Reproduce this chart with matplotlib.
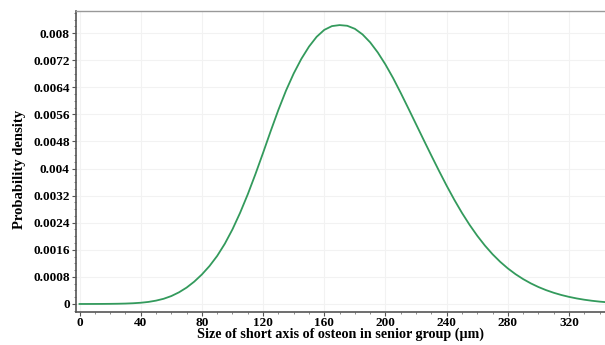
import matplotlib
matplotlib.use("Agg")
from matplotlib import pyplot as plt
from matplotlib.ticker import MultipleLocator

# curve, every 5 um
size_um = list(range(0, 350, 5))
density = [
    0.0000003, 0.0000006, 0.0000012, 0.0000023, 0.0000042, 0.0000074,
    0.0000128, 0.0000219, 0.0000366, 0.0000606, 0.0000992, 0.000154,
    0.000234, 0.000344, 0.000484, 0.000660, 0.000872, 0.001122,
    0.001420, 0.001780, 0.002205, 0.002695, 0.003240, 0.003835,
    0.004464, 0.005109, 0.005731, 0.006303, 0.006805, 0.007237,
    0.007599, 0.007889, 0.008094, 0.008205, 0.008235, 0.008215,
    0.008125, 0.007960, 0.007725, 0.007425, 0.007070, 0.006670,
    0.006230, 0.005772, 0.005307, 0.004842, 0.004382, 0.003930,
    0.003492, 0.003077, 0.002690, 0.002336, 0.002014, 0.001725,
    0.001469, 0.001245, 0.001050, 0.000881, 0.000735, 0.000609,
    0.000501, 0.000409, 0.000331, 0.000265, 0.000210, 0.000164,
    0.000126, 0.000095, 0.000070, 0.000050,
]

x_ticks = [0, 40, 80, 120, 160, 200, 240, 280, 320]
y_ticks = [0, 0.0008, 0.0016, 0.0024, 0.0032, 0.004, 0.0048, 0.0056, 0.0064, 0.0072, 0.008]
y_tick_labels = ["0", "0.0008", "0.0016", "0.0024", "0.0032", "0.004",
                 "0.0048", "0.0056", "0.0064", "0.0072", "0.008"]

plt.rcParams["font.family"] = ["Liberation Serif", "DejaVu Serif"]
plt.rcParams["font.weight"] = "bold"

fig = plt.figure(figsize=(6.05, 3.45), dpi=100)
ax = fig.add_axes([0.1256, 0.0957, 0.8744, 0.8723])

ax.plot(size_um, density, color="#339a5c", linewidth=1.3)

ax.set_xlim(-2.3, 343.5)
ax.set_ylim(-0.000236, 0.00865)

ax.set_xticks(x_ticks)
ax.set_xticklabels([str(t) for t in x_ticks])
ax.set_yticks(y_ticks)
ax.set_yticklabels(y_tick_labels)
ax.xaxis.set_minor_locator(MultipleLocator(10))
ax.yaxis.set_minor_locator(MultipleLocator(0.0002))

ax.tick_params(which="major", direction="out", length=3, width=0.8,
               color="#555555", labelsize=9.5)
ax.tick_params(which="minor", direction="out", length=1.5, width=0.6, color="#777777")
ax.tick_params(axis="x", which="major", pad=0.5)
ax.tick_params(axis="y", which="major", pad=1.5)

ax.grid(True, which="major", color="#f2f2f2", linewidth=0.8)

for side in ["left", "bottom"]:
    ax.spines[side].set_color("#555555")
    ax.spines[side].set_linewidth(1.2)
ax.spines["top"].set_color("#999999")
ax.spines["top"].set_linewidth(1.0)
ax.spines["right"].set_visible(False)

ax.set_xlabel("Size of short axis of osteon in senior group (\u03bcm)", fontsize=10.2,
              fontweight="bold", labelpad=-1)
ax.set_ylabel("Probability density", fontsize=10.5, fontweight="bold")
ax.yaxis.set_label_coords(-0.094, 0.475)

fig.savefig("out.png", dpi=100)
